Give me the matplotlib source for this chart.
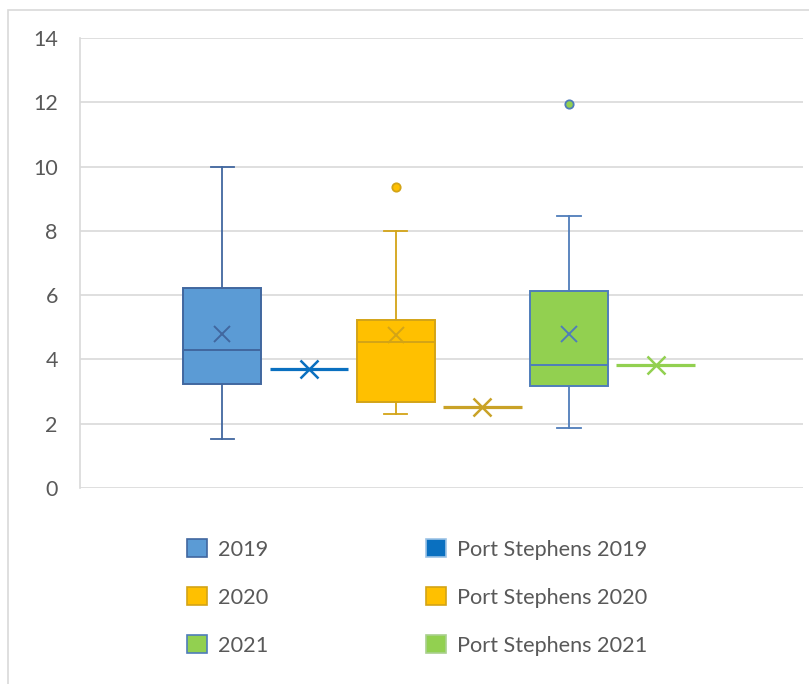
import matplotlib
matplotlib.use("Agg")
import matplotlib.pyplot as plt
from matplotlib.patches import Patch, Rectangle

plt.rcParams['font.family'] = ['Lato', 'DejaVu Sans']

# Box-and-whisker summaries per year
years = ["2019", "2020", "2021"]
whisker_low = [1.51, 2.31, 1.88]
q1 = [3.23, 2.67, 3.17]
median = [4.29, 4.54, 3.83]
q3 = [6.23, 5.23, 6.14]
whisker_high = [10.0, 8.0, 8.46]
mean = [4.78, 4.75, 4.78]
outliers = [[], [9.37], [11.94]]

# Port Stephens single values per year
ps_labels = ["Port Stephens 2019", "Port Stephens 2020", "Port Stephens 2021"]
ps_values = [3.70, 2.52, 3.83]

y_ticks = [0, 2, 4, 6, 8, 10, 12, 14]

box_fill = ["#5B9BD5", "#FFC000", "#92D050"]
box_edge = ["#41679F", "#D3A417", "#4F7DBA"]
flier_fill = ["#5B9BD5", "#FFC000", "#92D050"]
ps_color = ["#0A70C0", "#C9A227", "#92D050"]
ps_patch_fill = ["#0A70C0", "#FFC000", "#92D050"]
ps_patch_edge = ["#9DC3E6", "#D3A417", "#A9D08E"]
grid_col = "#D9D9D9"
text_col = "#595959"

fig = plt.figure(figsize=(8.09, 6.84), dpi=100)
ax = fig.add_axes([80 / 809, 1 - 488 / 684, (803 - 80) / 809, (488 - 38) / 684])

# boxes at even slots, Port Stephens markers at odd slots
for i in range(3):
    pos = 2 * i
    stats = [dict(med=median[i], q1=q1[i], q3=q3[i], whislo=whisker_low[i],
                  whishi=whisker_high[i], mean=mean[i], fliers=outliers[i])]
    ax.bxp(stats, positions=[pos], widths=0.9, patch_artist=True,
           showmeans=True, manage_ticks=False,
           boxprops=dict(facecolor=box_fill[i], edgecolor=box_edge[i], linewidth=1.4),
           medianprops=dict(color=box_edge[i], linewidth=1.4),
           whiskerprops=dict(color=box_edge[i], linewidth=1.3),
           capprops=dict(color=box_edge[i], linewidth=1.3),
           capwidths=0.27,
           meanprops=dict(marker='x', markeredgecolor=box_edge[i], markersize=11,
                          markeredgewidth=1.4),
           flierprops=dict(marker='o', markerfacecolor=flier_fill[i],
                           markeredgecolor=box_edge[i], markersize=6,
                           markeredgewidth=1.3),
           zorder=3)
    p = 2 * i + 1
    ax.plot([p - 0.455, p + 0.455], [ps_values[i], ps_values[i]],
            color=ps_color[i], linewidth=2.3, solid_capstyle='butt', zorder=3)
    ax.plot([p], [ps_values[i]], marker='x', color=ps_color[i], markersize=13,
            markeredgewidth=1.8, zorder=4)

ax.set_xlim(-1.645, 6.703)
ax.set_ylim(0, 14)
ax.set_yticks(y_ticks)
ax.set_xticks([])
ax.yaxis.grid(True, color=grid_col, linewidth=1.2)
ax.set_axisbelow(True)
for side in ["top", "right", "bottom"]:
    ax.spines[side].set_visible(False)
ax.spines["left"].set_color(grid_col)
ax.spines["left"].set_linewidth(1.2)
ax.tick_params(axis='y', length=0, pad=16, labelsize=15.5, labelcolor=text_col)

# chart border
fig.patches.append(Rectangle((8 / 809, -0.05), 1.1, 1 - 10 / 684 + 0.05,
                             transform=fig.transFigure, fill=False,
                             edgecolor=grid_col, linewidth=1.2))

handles = []
for i in range(3):
    handles.append(Patch(facecolor=box_fill[i], edgecolor=box_edge[i],
                         linewidth=1.2, label=years[i]))
for i in range(3):
    handles.append(Patch(facecolor=ps_patch_fill[i], edgecolor=ps_patch_edge[i],
                         linewidth=1.2, label=ps_labels[i]))

fig.legend(handles=handles, ncol=2, loc='upper left',
           bbox_to_anchor=(187 / 809, 1 - 539 / 684), frameon=False,
           borderaxespad=0, borderpad=0, fontsize=15.6, labelcolor=text_col,
           handlelength=0.92, handleheight=0.92, handletextpad=0.5,
           columnspacing=7.3, labelspacing=1.27)

fig.savefig("out.png", dpi=100)
